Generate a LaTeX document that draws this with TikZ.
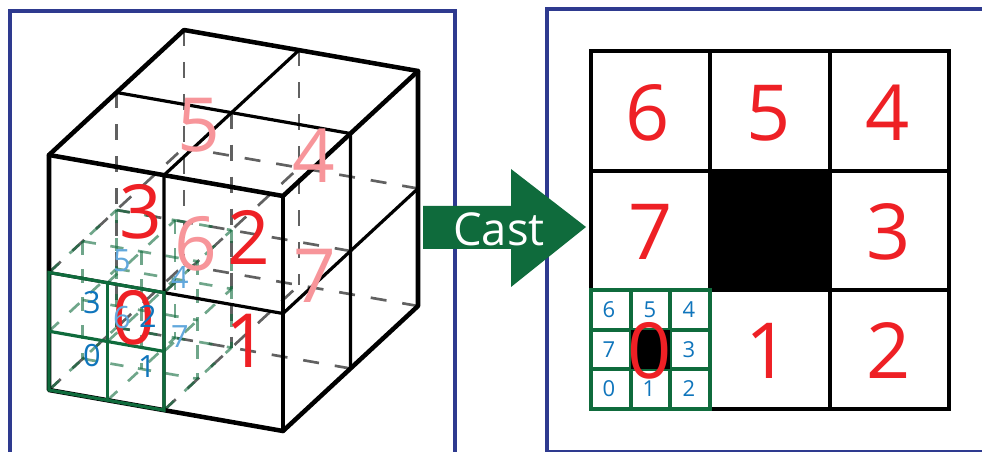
\documentclass[tikz,border=0pt]{standalone}
\usepackage{fontspec}
\setmainfont{Open Sans}
\definecolor{panelblue}{HTML}{2E3A8F}
\definecolor{cubegreen}{HTML}{0F6B3C}
\definecolor{numred}{HTML}{EE2025}
\definecolor{palered}{HTML}{F7959A}
\definecolor{numblue}{HTML}{0F75BC}
\definecolor{paleblue}{HTML}{62A8DC}
\tikzset{
  px/.style={x=0.75pt,y=-0.75pt},
  panel/.style={draw=panelblue,line width=2.9pt},
  heavy/.style={draw=black,line width=3.4pt,line cap=round,line join=round},
  thin solid/.style={draw=black,line width=2.4pt},
  hidden/.style={draw=black!62,line width=2pt,dash pattern=on 12pt off 12pt},
  ghost/.style={draw=cubegreen,draw opacity=.6,line width=2pt,dash pattern=on 10pt off 11pt},
  greenline/.style={draw=cubegreen,line width=2.4pt},
  bigred/.style={text=numred,font=\fontsize{56}{56}\selectfont,inner sep=0pt},
  bigpale/.style={text=palered,font=\fontsize{56}{56}\selectfont,inner sep=0pt},
  midblue/.style={text=numblue,font=\fontsize{23}{23}\selectfont,inner sep=0pt},
  paleb/.style={text=paleblue,font=\fontsize{23}{23}\selectfont,inner sep=0pt},
  smallblue/.style={text=numblue,font=\fontsize{16.5}{16.5}\selectfont,inner sep=0pt},
  gridred/.style={text=numred,font=\fontsize{58}{58}\selectfont,inner sep=0pt},
  cell/.style={draw=black,line width=2.4pt},
}
\def\mx{0.983}
\begin{document}
\begin{tikzpicture}[px]
\useasboundingbox (0,0) rectangle (982,452);
% panels
\draw[panel] (10,452) -- (10,11) -- (455,11) -- (455,452);
\draw[panel] (982,9) -- (547,9) -- (547,452);
\draw[draw=panelblue,line width=1.2pt] (547,451) -- (982,451);

% cube grid: half-size steps
\begin{scope}[shift={(49,390)},x={(0.75pt*117,-0.75pt*20.5)},y={(0.75pt*67.5,0.75pt*62.5)},z={(0,0.75pt*117.5)}]
  % hidden lines of the big cube
  \foreach \a in {1,2}{
    \draw[hidden] (0,\a,2) -- (0,\a,0);
    \draw[hidden] (\mx,\a,2) -- (\mx,\a,0);
    \draw[hidden] (2,\a,1) -- (0,\a,1);
    \draw[hidden] (2,\a,0) -- (0,\a,0);
  }
  \draw[hidden] (0,0,0) -- (0,2,0);
  \draw[hidden] (0,0,1) -- (0,2,1);
  \draw[hidden] (\mx,0,0) -- (\mx,2,0);
  \draw[hidden] (\mx,0,1) -- (\mx,2,1);
  % hidden lines of the small cube
  \foreach \a in {0.5,1}{
    \draw[ghost] (0,\a,1) -- (0,\a,0);
    \draw[ghost] (0.5,\a,1) -- (0.5,\a,0);
    \draw[ghost] (\mx,\a,1) -- (\mx,\a,0);
    \draw[ghost] (0,\a,0) -- (\mx,\a,0);
    \draw[ghost] (0,\a,0.5) -- (\mx,\a,0.5);
    \draw[ghost] (0,\a,1) -- (\mx,\a,1);
  }
  \foreach \b in {0,0.5,\mx}{
    \draw[ghost] (\b,0,0.5) -- (\b,1,0.5);
    \draw[ghost] (\b,0,1) -- (\b,1,1);
    \draw[ghost] (\b,0,0) -- (\b,1,0);
  }
  % visible thin lines
  \draw[thin solid] (\mx,0,0) -- (\mx,0,2) -- (\mx,2,2);
  \draw[thin solid] (0,0,1) -- (2,0,1) -- (2,2,1);
  \draw[thin solid] (0,1,2) -- (2,1,2) -- (2,1,0);
  % heavy outline
  \draw[heavy] (0,0,0) -- (2,0,0) -- (2,2,0) -- (2,2,2) -- (0,2,2) -- (0,0,2) -- cycle;
  \draw[heavy] (0,0,2) -- (2,0,2) -- (2,2,2);
  \draw[heavy] (2,0,2) -- (2,0,0);
  % green front face
  \draw[greenline] (0,0,0) -- (\mx,0,0) -- (\mx,0,1) -- (0,0,1) -- cycle;
  \draw[greenline] (0.5,0,0) -- (0.5,0,1);
  \draw[greenline] (0,0,0.5) -- (\mx,0,0.5);
\end{scope}

% numbers on the cube
\node[bigpale] (n5) at (199,125) {5};
\node[bigpale] (n4) at (314,156) {4};
\node[bigpale] (n6) at (196,244) {6};
\node[bigpale] (n7) at (315,276) {7};
\node[bigred] (n3) at (141,212) {3};
\node[bigred] (n2) at (249,237) {2};
\node[bigred] (n1) at (247,341) {1};
\node[bigred] (n0) at (134,318) {0};
\node[paleb] (b5) at (122,261) {5};
\node[paleb] (b4) at (180,277) {4};
\node[paleb] (b6) at (122,318) {6};
\node[paleb] (b7) at (180,337) {7};
\node[midblue] (b3) at (92,303) {3};
\node[midblue] (b2) at (148,316) {2};
\node[midblue] (b0) at (92,356) {0};
\node[midblue] (b1) at (147,367) {1};

% arrow
\fill[cubegreen] (423,206) -- (511,206) -- (511,169) -- (586,227) -- (511,287) -- (511,249) -- (423,249) -- cycle;
\node[text=white,font=\fontsize{34}{34}\selectfont,inner sep=0pt] (cast) at (499,229) {Cast};

% right grid
\foreach \x/\X in {591/710,710/830,830/949}{
  \foreach \y/\Y in {51/171,171/290,290/409}{
    \draw[cell] (\x,\y) rectangle (\X,\Y);
  }
}
\fill[black] (710,171) rectangle (830,290);
\node[gridred] (g6) at (648,113) {6};
\node[gridred] (g5) at (769,113) {5};
\node[gridred] (g4) at (888,113) {4};
\node[gridred] (g7) at (651,232) {7};
\node[gridred] (g3) at (889,232) {3};
\node[gridred] (g1) at (768,351) {1};
\node[gridred] (g2) at (889,351) {2};
% small grid
\fill[white] (591,290) rectangle (710,409);
\foreach \x/\X in {591/631,631/670,670/710}{
  \foreach \y/\Y in {290/330,330/369,369/409}{
    \draw[greenline] (\x,\y) rectangle (\X,\Y);
  }
}
\fill[black] (631,330) rectangle (670,369);
\node[smallblue] (s6) at (609,310) {6};
\node[smallblue] (s5) at (650,310) {5};
\node[smallblue] (s4) at (689,310) {4};
\node[smallblue] (s7) at (609,350) {7};
\node[smallblue] (s3) at (689,350) {3};
\node[smallblue] (s0) at (609,389) {0};
\node[smallblue] (s1) at (649,389) {1};
\node[smallblue] (s2) at (689,389) {2};
\node[gridred] (g0) at (650,351) {0};
\end{tikzpicture}
\end{document}
